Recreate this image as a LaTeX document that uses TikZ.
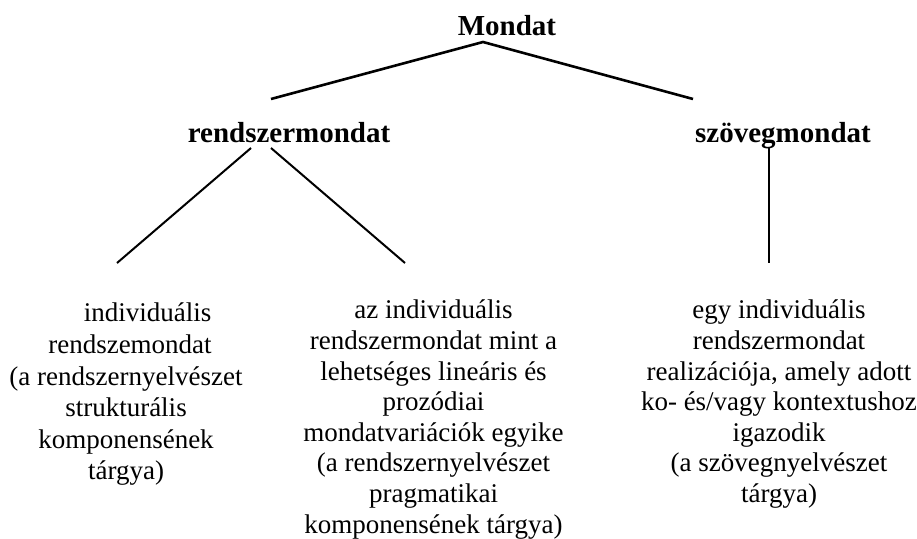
\documentclass[tikz,border=0pt]{standalone}
\usepackage{fontspec}
\setmainfont{Liberation Serif}
\usetikzlibrary{calc}
\begin{document}
\begin{tikzpicture}[x=1pt,y=-1pt,
  head/.style={inner sep=0pt, anchor=base, font=\fontsize{29}{33}\selectfont\bfseries},
  desc/.style={inner sep=0pt, anchor=north, align=center, font=\fontsize{27}{30.6}\selectfont},
  edge/.style={line width=2pt, line cap=butt},
  topedge/.style={line width=2.6pt, line join=miter}]
\useasboundingbox[fill=white] (0,0) rectangle (917,538);
\node[head] (mondat) at (507,35) {Mondat};
\node[head] (rendszer) at (289,142) {rendszermondat};
\node[head] (szoveg) at (783,142) {szövegmondat};
\node[desc, font=\fontsize{27}{31.6}\selectfont] (indiv) at (126,303)
  {\hspace*{43pt}individuális\\\hspace*{8pt}rendszemondat\\(a rendszernyelvészet\\strukturális\\komponensének\\tárgya)};
\node[desc] (varia) at (433.5,300)
  {az individuális\\rendszermondat mint a\\lehetséges lineáris és\\prozódiai\\mondatvariációk egyike\\(a rendszernyelvészet\\pragmatikai\\komponensének tárgya)};
\node[desc] (real) at (779,300)
  {egy individuális\\rendszermondat\\realizációja, amely adott\\ko- és/vagy kontextushoz\\igazodik\\(a szövegnyelvészet\\tárgya)};
\coordinate (apex) at ($(mondat.base)+(-24,7)$);
\draw[topedge] ($(rendszer.base)+(-18,-43)$) -- (apex) -- ($(szoveg.base)+(-90,-43)$);
\draw[edge] ($(rendszer.base)+(-38,6)$) -- ($(indiv.north)+(-9,-40)$);
\draw[edge] ($(rendszer.base)+(-18,6)$) -- ($(varia.north)+(-28.5,-37)$);
\draw[edge] ($(szoveg.base)+(-14,6)$) -- ($(real.north)+(-10,-37)$);
\end{tikzpicture}
\end{document}
